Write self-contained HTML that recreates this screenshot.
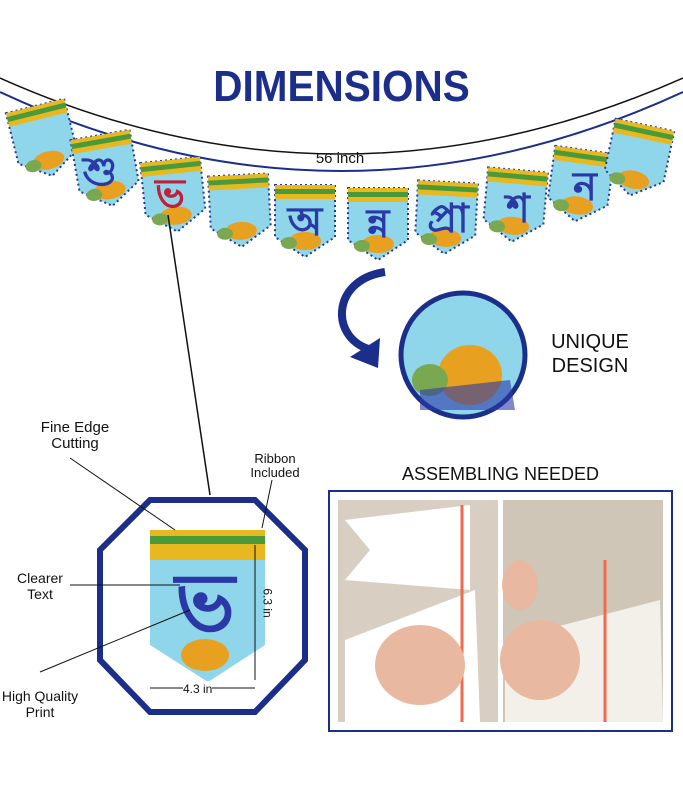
<!DOCTYPE html>
<html><head><meta charset="utf-8"><style>
body{margin:0;width:683px;height:800px;background:#fff;overflow:hidden;font-family:"Liberation Sans","Noto Sans CJK SC",sans-serif;position:relative}
.t{position:absolute;color:#111;font-size:14px;text-align:center;line-height:16px}
</style></head><body>
<svg width="683" height="800" style="position:absolute;left:0;top:0">
<defs>
<g id="flag">
<path d="M-30,0 H30 V52 L0,72 L-30,52 Z" fill="#8fd6ea" stroke="#2a3a8c" stroke-width="2" stroke-dasharray="2 3"/>
<rect x="-30" y="0" width="60" height="14" fill="#e8b820"/>
<rect x="-30" y="4" width="60" height="5" fill="#4a9a3a"/>
<ellipse cx="0" cy="56" rx="16" ry="9" fill="#e8a020"/>
<ellipse cx="-16" cy="58" rx="8" ry="6" fill="#7aa850"/>
</g>
</defs>
<path d="M0,78 Q340,230 683,78" fill="none" stroke="#111" stroke-width="1.5"/>
<path d="M0,92 Q340,250 683,92" fill="none" stroke="#1b2f8a" stroke-width="2"/>
<g font-family="Noto Sans CJK SC,sans-serif" font-size="40" font-weight="bold" fill="#2b39a8" text-anchor="middle">
<use href="#flag" transform="translate(35,106) rotate(-14)"/>
<use href="#flag" transform="translate(100,135) rotate(-10)"/><text x="100" y="185">শু</text>
<use href="#flag" transform="translate(170,160) rotate(-6)"/><text x="170" y="207" fill="#c0203a">ভ</text>
<use href="#flag" transform="translate(238,175) rotate(-3)"/>
<use href="#flag" transform="translate(305,185)"/><text x="305" y="235">অ</text>
<use href="#flag" transform="translate(378,188)"/><text x="378" y="237">ন্ন</text>
<use href="#flag" transform="translate(448,182) rotate(3)"/><text x="448" y="232">প্রা</text>
<use href="#flag" transform="translate(518,170) rotate(5)"/><text x="518" y="222">শ</text>
<use href="#flag" transform="translate(585,150) rotate(8)"/><text x="585" y="200">ন</text>
<use href="#flag" transform="translate(645,125) rotate(12)"/>
</g>
<line x1="168" y1="215" x2="210" y2="495" stroke="#111" stroke-width="1.5"/>
<path d="M385,272 C330,280 330,340 372,350" fill="none" stroke="#1b2f8a" stroke-width="8"/>
<polygon points="350,357 380,338 378,368" fill="#1b2f8a"/>
<circle cx="463" cy="355" r="62" fill="#8fd6ea" stroke="#1b2f8a" stroke-width="5"/>
<ellipse cx="470" cy="375" rx="32" ry="30" fill="#e8a020"/>
<ellipse cx="430" cy="380" rx="18" ry="16" fill="#7aa850"/>
<path d="M420,390 L510,380 L515,410 L420,410Z" fill="#2b39a8" opacity=".6"/>
<polygon points="150,500 255,500 305,550 305,660 255,712 150,712 100,660 100,550" fill="none" stroke="#1b2f8a" stroke-width="6"/>
<path d="M150,530 H265 V645 L208,682 L150,645Z" fill="#8fd6ea"/>
<rect x="150" y="530" width="115" height="30" fill="#e8b820"/>
<rect x="150" y="536" width="115" height="8" fill="#4a9a3a"/>
<ellipse cx="205" cy="655" rx="24" ry="16" fill="#e8a020"/>
<text x="205" y="630" font-family="Noto Sans CJK SC,sans-serif" font-size="80" font-weight="bold" fill="#2b39a8" text-anchor="middle">ভ</text>
<line x1="255" y1="545" x2="255" y2="680" stroke="#111"/>
<line x1="150" y1="688" x2="255" y2="688" stroke="#111"/>
<g stroke="#111" stroke-width="1"><line x1="70" y1="458" x2="175" y2="530"/><line x1="272" y1="480" x2="262" y2="528"/><line x1="70" y1="585" x2="180" y2="585"/><line x1="40" y1="672" x2="190" y2="610"/></g>
<rect x="329" y="491" width="343" height="240" fill="#fff" stroke="#1b2f8a" stroke-width="2"/>
<rect x="338" y="500" width="160" height="222" fill="#d8cfc2"/>
<rect x="503" y="500" width="160" height="222" fill="#cfc6b8"/>
<polygon points="345,520 470,505 470,590 345,580 370,550" fill="#fff"/>
<polygon points="345,640 475,590 480,722 345,722" fill="#fff"/>
<polygon points="505,640 660,600 663,722 505,722" fill="#f3f0ea"/>
<path d="M462,505 L462,722 M605,560 L605,722" stroke="#f06a50" stroke-width="3"/>
<ellipse cx="420" cy="665" rx="45" ry="40" fill="#e8b8a0"/>
<ellipse cx="540" cy="660" rx="40" ry="40" fill="#e8b8a0"/>
<ellipse cx="520" cy="585" rx="18" ry="25" fill="#e8b8a0"/>
</svg>
<div style="position:absolute;left:0;width:683px;top:62px;text-align:center;font-size:44px;font-weight:bold;color:#1b2f8a;transform:scaleX(.92)">DIMENSIONS</div>
<div class="t" style="left:290px;top:151px;width:100px;font-size:15px">56 inch</div>
<div class="t" style="left:540px;top:330px;width:100px;font-size:20px;line-height:24px">UNIQUE DESIGN</div>
<div class="t" style="left:20px;top:420px;width:110px;font-size:15px">Fine Edge Cutting</div>
<div class="t" style="left:235px;top:452px;width:80px;font-size:13px;line-height:14px">Ribbon Included</div>
<div class="t" style="left:5px;top:570px;width:70px">Clearer Text</div>
<div class="t" style="left:0;top:688px;width:80px">High Quality Print</div>
<div class="t" style="left:253px;top:595px;font-size:12px;transform:rotate(90deg)">6.3 in</div>
<div class="t" style="left:183px;top:681px;font-size:12px;background:#fff">4.3 in</div>
<div class="t" style="left:329px;top:466px;width:343px;font-size:18px">ASSEMBLING NEEDED</div>
</body></html>
